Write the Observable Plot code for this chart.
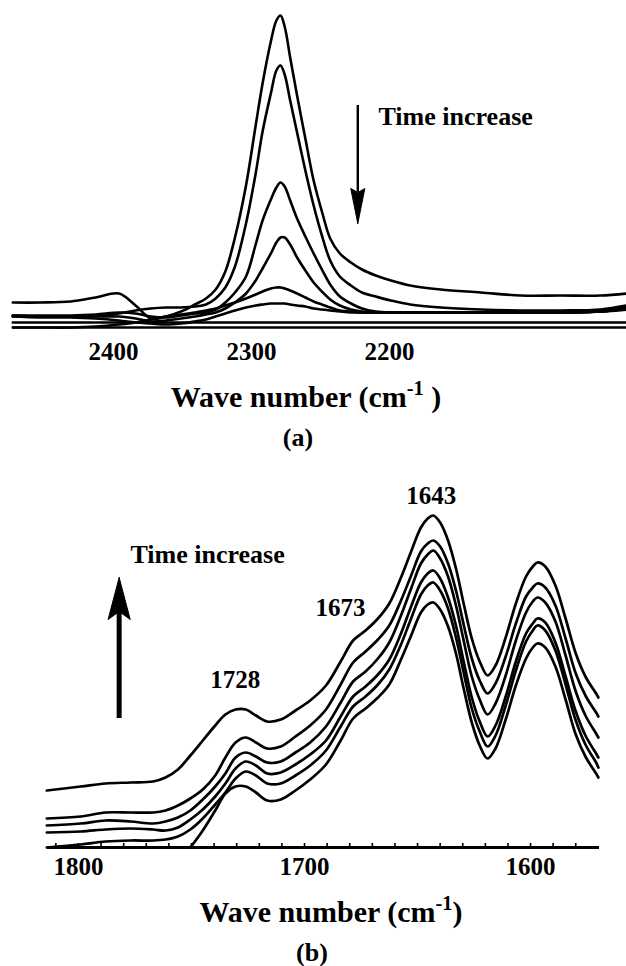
<!DOCTYPE html>
<html>
<head>
<meta charset="utf-8">
<script src="https://cdn.jsdelivr.net/npm/d3@7"></script>
<script src="https://cdn.jsdelivr.net/npm/@observablehq/plot@0.6"></script>
<style>
  html, body { margin: 0; padding: 0; background: #fff; }
  #page {
    position: relative; width: 626px; height: 966px; overflow: hidden;
    font-family: "Liberation Serif", "Times New Roman", serif; font-weight: bold; color: #000;
  }
  .panel { position: absolute; left: 0; }
  .label { position: absolute; white-space: nowrap; line-height: 1; transform: translateX(-50%); }
  .sup { position: relative; font-size: 0.68em; }
</style>
</head>
<body>
<div id="page">
  <div id="panelA" class="panel" style="top:0px"></div>
  <div class="label" style="left:306px; top:382px; font-size:30px">Wave number (cm<span class="sup" style="top:-12px">-1</span> )</div>
  <div class="label" style="left:298px; top:425px; font-size:26px">(a)</div>
  <div id="panelB" class="panel" style="top:470px"></div>
  <div class="label" style="left:331px; top:897px; font-size:30px">Wave number (cm<span class="sup" style="top:-12px">-1</span>)</div>
  <div class="label" style="left:312px; top:940px; font-size:26px">(b)</div>
</div>
<script>
// ---------- (a) 2400-2030 cm-1 region: band near 2279 cm-1 decaying with time ----------
const ticksA = [2400, 2300, 2200];
const waveA = [2473, 2453, 2431, 2413, 2396, 2384, 2373, 2362, 2351, 2341, 2333, 2326, 2319, 2312,
  2304, 2297, 2292, 2286, 2282, 2279, 2276, 2272, 2267, 2261, 2255, 2249, 2243, 2236, 2228, 2220,
  2210, 2199, 2185, 2163, 2134, 2105, 2076, 2047, 2028];
const specA1 = [.025, .025, .026, .030, .034, .022, .009, .011, .016, .023, .029, .038, .056, .090,
  .142, .202, .244, .286, .307, .312, .301, .270, .232, .189, .147, .116, .089, .074, .065, .058,
  .052, .047, .042, .038, .035, .032, .032, .032, .034];
const specA2 = [.012, .011, .011, .012, .014, .017, .019, .020, .020, .021, .023, .029, .040, .061,
  .104, .154, .196, .234, .257, .262, .253, .227, .195, .157, .122, .092, .067, .051, .042, .035,
  .031, .027, .023, .020, .018, .017, .017, .018, .022];
const specA3 = [.012, .012, .012, .013, .015, .014, .011, .010, .012, .014, .015, .018, .025, .035,
  .051, .083, .107, .128, .140, .145, .141, .127, .109, .091, .074, .058, .043, .031, .024, .019,
  .016, .015, .015, .015, .015, .015, .015, .016, .020];
const specA4 = [.011, .011, .011, .011, .011, .009, .006, .007, .009, .011, .013, .015, .019, .025,
  .034, .047, .059, .074, .085, .090, .090, .083, .070, .057, .045, .036, .028, .022, .018, .016,
  .015, .015, .015, .015, .015, .015, .015, .016, .019];
const specA5 = [.000, .000, .000, .001, .003, .005, .008, .011, .013, .015, .017, .019, .022, .025,
  .029, .033, .036, .039, .040, .040, .039, .037, .034, .030, .026, .023, .020, .017, .016, .015,
  .015, .015, .015, .015, .015, .015, .015, .016, .018];
const specA6 = [.011, .010, .010, .009, .007, .005, .004, .003, .004, .006, .008, .011, .014, .017,
  .020, .022, .023, .024, .024, .024, .024, .023, .022, .021, .019, .018, .017, .016, .015, .015,
  .015, .015, .015, .015, .015, .015, .015, .016, .019];
const specA7 = [.005, .005, .005, .005, .005, .005, .005, .005, .005, .005, .005, .005, .005, .005,
  .005, .005, .005, .005, .005, .005, .005, .005, .005, .005, .005, .005, .005, .005, .005, .005,
  .005, .005, .005, .005, .005, .005, .005, .005, .005];

// ---------- (b) 1814-1570 cm-1 region: bands growing with time ----------
const ticksB = [1800, 1700, 1600];
const minorTicksB = [1580, 1590, 1600, 1610, 1620, 1630, 1640, 1650, 1660, 1670, 1680, 1690, 1700,
  1710, 1720, 1730, 1740, 1750, 1760, 1770, 1780, 1790, 1800, 1810];
const peaksB = [1728, 1673, 1643];
const waveB = [1814, 1799, 1788, 1777, 1767, 1761.5, 1756, 1750.5, 1745, 1739.5, 1735, 1730.5, 1726,
  1721.5, 1716.5, 1710.5, 1704, 1697.5, 1690.5, 1684, 1678.5, 1673, 1667.5, 1662.5, 1657.5, 1653,
  1648.5, 1645.5, 1643, 1640, 1636.5, 1633, 1629.5, 1626, 1622.5, 1619, 1615.5, 1611, 1606.5, 1602,
  1599, 1597, 1593.5, 1589, 1584.5, 1580, 1575.5, 1571, 1570];
const specB1 = [.114, .122, .128, .130, .132, .140, .156, .184, .214, .244, .266, .276, .276, .264,
  .252, .256, .274, .294, .324, .372, .414, .434, .458, .488, .538, .590, .640, .658, .664, .650,
  .614, .558, .486, .418, .372, .344, .364, .420, .488, .542, .562, .570, .562, .524, .458, .388,
  .340, .308, .300];
const specB2 = [.058, .062, .070, .070, .070, .074, .084, .098, .116, .144, .180, .210, .220, .210,
  .198, .202, .222, .244, .276, .326, .370, .392, .416, .444, .492, .542, .592, .608, .614, .602,
  .568, .514, .444, .378, .334, .308, .328, .382, .448, .502, .520, .528, .520, .484, .418, .348,
  .302, .270, .262];
const specB3 = [.044, .048, .054, .052, .048, .052, .060, .074, .096, .122, .148, .180, .190, .182,
  .170, .172, .190, .210, .242, .290, .332, .352, .378, .410, .462, .516, .568, .586, .594, .578,
  .542, .484, .412, .342, .296, .266, .288, .344, .414, .470, .492, .500, .490, .452, .384, .312,
  .262, .228, .220];
const specB4 = [.030, .032, .036, .038, .036, .034, .040, .056, .076, .102, .128, .158, .172, .164,
  .148, .150, .166, .186, .214, .262, .302, .322, .346, .376, .426, .480, .530, .548, .554, .538,
  .500, .444, .370, .300, .252, .222, .244, .302, .372, .428, .448, .458, .450, .410, .342, .272,
  .222, .188, .180];
const specB5 = [.000, .006, .012, .014, .014, .016, .022, .036, .058, .086, .110, .138, .152, .144,
  .128, .128, .144, .164, .194, .242, .282, .302, .326, .356, .404, .456, .506, .524, .530, .514,
  .478, .420, .348, .278, .232, .202, .224, .284, .354, .412, .434, .444, .434, .394, .326, .254,
  .204, .170, .160];
const specB6 = [null, null, null, null, null, null, null, .000, .034, .074, .108, .122, .122, .110,
  .094, .096, .114, .136, .166, .214, .258, .278, .300, .326, .374, .422, .470, .486, .490, .476,
  .442, .388, .316, .250, .204, .178, .198, .256, .324, .378, .400, .408, .400, .362, .296, .226,
  .180, .148, .140];

// Long-format rows: one row per (spectrum, wave number)
function toRows(wave, spectra) {
  return spectra.flatMap((vals, k) =>
    vals.map((v, i) => ({w: wave[i], v, s: k})).filter(d => d.v != null));
}
const rowsA = toRows(waveA, [specA1, specA2, specA3, specA4, specA5, specA6, specA7]);
const rowsB = toRows(waveB, [specB1, specB2, specB3, specB4, specB5, specB6]);

// Annotation arrows ("Time increase"), in data units
const arrowA = {x: 2223, from: 0.222, to: 0.104, headLen: 0.035, notch: 0.004, halfWidth: 5.1};
const arrowB = {x: 1782, from: 0.258, to: 0.540, headLen: 0.084, notch: 0.016, halfWidth: 4.9};

function arrowHead(a) {
  const dir = Math.sign(a.to - a.from);
  const base = a.to - dir * a.headLen;
  return [
    {x: a.x, y: a.to},
    {x: a.x + a.halfWidth, y: base},
    {x: a.x, y: base + dir * a.notch},
    {x: a.x - a.halfWidth, y: base},
    {x: a.x, y: a.to}
  ];
}
function arrowShaftEnd(a) {
  const dir = Math.sign(a.to - a.from);
  return a.to - dir * (a.headLen - a.notch);
}

const font = "'Liberation Serif', 'Times New Roman', serif";
const baseStyle = {fontFamily: font, fontSize: "25px", fontWeight: "bold", color: "#000",
  background: "transparent", overflow: "visible"};
const plainNumber = d => String(d);

const plotA = Plot.plot({
  width: 626, height: 372,
  marginLeft: 12, marginRight: 0, marginTop: 15, marginBottom: 45,
  style: baseStyle,
  x: {domain: [2473.2, 2028.3], ticks: ticksA, tickFormat: plainNumber, tickSize: 0, tickPadding: 15, label: null},
  y: {domain: [0, 0.312], axis: null},
  marks: [
    Plot.ruleY([0], {stroke: "#000", strokeWidth: 2.6}),
    Plot.line(rowsA, {x: "w", y: "v", z: "s", stroke: "#000", strokeWidth: 2.6, curve: "catmull-rom"}),
    Plot.ruleX([arrowA.x], {y1: arrowA.from, y2: arrowShaftEnd(arrowA), stroke: "#000", strokeWidth: 2.4}),
    Plot.line(arrowHead(arrowA), {x: "x", y: "y", fill: "#000", stroke: "#000", strokeWidth: 1}),
    Plot.text(["Time increase"], {x: 2208, y: 0.203, text: d => d, textAnchor: "start",
      lineAnchor: "bottom", fontSize: 26})
  ]
});
document.getElementById("panelA").append(plotA);

const peakLabelPlace = {1728: {y: 0.320, dx: -6}, 1673: {y: 0.464, dx: -25}, 1643: {y: 0.688, dx: -2}};

const plotB = Plot.plot({
  width: 626, height: 420,
  marginLeft: 47, marginRight: 27, marginTop: 45, marginBottom: 43,
  style: baseStyle,
  x: {domain: [1813.7, 1569.5], ticks: ticksB, tickFormat: plainNumber, tickSize: 0, tickPadding: 10, label: null},
  y: {domain: [0, 0.664], axis: null},
  marks: [
    Plot.ruleY([0], {stroke: "#000", strokeWidth: 3}),
    Plot.ruleX(minorTicksB, {y1: 0, y2: 0.008, stroke: "#000", strokeWidth: 1.6}),
    Plot.line(rowsB, {x: "w", y: "v", z: "s", stroke: "#000", strokeWidth: 2.7, curve: "catmull-rom"}),
    Plot.ruleX([arrowB.x], {y1: arrowB.from, y2: arrowShaftEnd(arrowB), stroke: "#000", strokeWidth: 5}),
    Plot.line(arrowHead(arrowB), {x: "x", y: "y", fill: "#000", stroke: "#000", strokeWidth: 1}),
    Plot.text(["Time increase"], {x: 1777, y: 0.570, text: d => d, textAnchor: "start",
      lineAnchor: "bottom", fontSize: 26}),
    ...peaksB.map(p => Plot.text([p], {x: d => d, y: peakLabelPlace[p].y, text: d => String(d),
      dx: peakLabelPlace[p].dx, lineAnchor: "bottom", fontSize: 25}))
  ]
});
document.getElementById("panelB").append(plotB);
</script>
</body>
</html>
